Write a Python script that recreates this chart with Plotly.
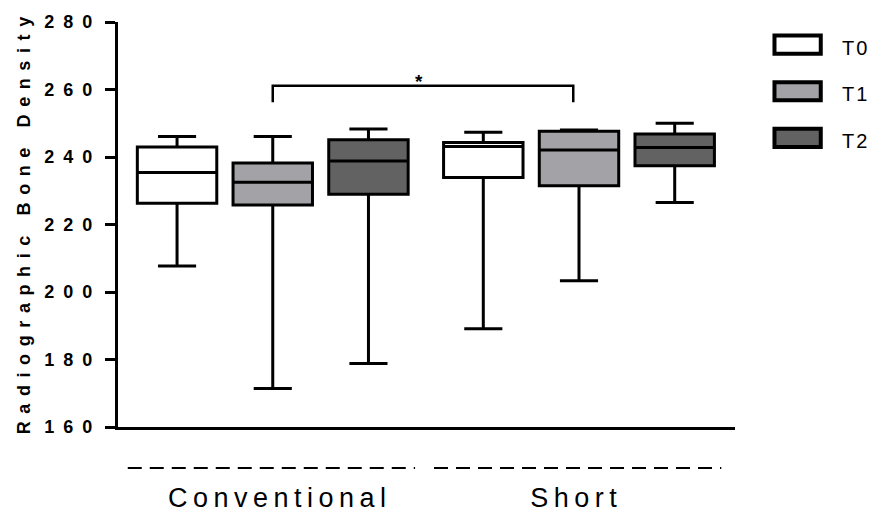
import plotly.graph_objects as go

# ---- data ----
groups = ["Conventional", "Short"]
series = ["T0", "T1", "T2"]
fill_colors = ["#ffffff", "#a3a2a7", "#626262"]

# per series: values for [Conventional, Short]
lower = {"T0": [207.7, 189.1], "T1": [171.4, 203.3], "T2": [178.8, 226.5]}
q1 = {"T0": [226.3, 233.9], "T1": [225.8, 231.5], "T2": [229.0, 237.4]}
median = {"T0": [235.4, 243.1], "T1": [232.5, 242.1], "T2": [238.8, 242.8]}
q3 = {"T0": [243.0, 244.3], "T1": [238.2, 247.6], "T2": [245.1, 246.8]}
upper = {"T0": [246.1, 247.3], "T1": [246.1, 248.0], "T2": [248.3, 250.0]}

y_ticks = [160, 180, 200, 220, 240, 260, 280]
y_title = "Radiographic Bone Density"
sig_label = "*"
sig_pair = ("T1", 0, 1)  # series, group a, group b
sig_bracket = [256.2, 261.1]

# ---- layout helpers ----
group_step = 3.2
def pos(g, s):
    return g * group_step + s

FONT = "Liberation Sans, Arial, sans-serif"
fig = go.Figure()

for si, s in enumerate(series):
    for gi, g in enumerate(groups):
        fig.add_trace(go.Box(
            x=[pos(gi, si)],
            q1=[q1[s][gi]], median=[median[s][gi]], q3=[q3[s][gi]],
            lowerfence=[lower[s][gi]], upperfence=[upper[s][gi]],
            width=0.83, whiskerwidth=0.48,
            fillcolor=fill_colors[si],
            line=dict(color="black", width=3),
            boxpoints=False, name=s, showlegend=False,
        ))

# significance bracket
s_idx = series.index(sig_pair[0])
xa, xb = pos(sig_pair[1], s_idx), pos(sig_pair[2], s_idx) - 0.06
fig.add_shape(type="path",
              path=f"M {xa},{sig_bracket[0]} L {xa},{sig_bracket[1]} L {xb},{sig_bracket[1]} L {xb},{sig_bracket[0]}",
              xref="x", yref="y", line=dict(color="black", width=2.5))
fig.add_annotation(x=(xa + xb) / 2 - 0.04, y=sig_bracket[1], text="<b>" + sig_label + "</b>", showarrow=False,
                   yanchor="bottom", yshift=-8, font=dict(family=FONT, size=19, color="black"))

# group labels with dashed rules
label_shift = [0.076, -0.03]
for gi, g in enumerate(groups):
    c = pos(gi, 1)
    fig.add_shape(type="line", x0=c - 1.515, x1=c + 1.487, y0=-0.101, y1=-0.101,
                  xref="x", yref="paper", line=dict(color="black", width=2, dash="14px,8px"))
    fig.add_annotation(x=c + label_shift[gi], y=-0.176, xref="x", yref="paper", text=g, showarrow=False,
                       yanchor="middle", font=dict(family=FONT, size=27, color="black"))

# manual legend
leg_y = [0.944, 0.829, 0.714]
for si, s in enumerate(series):
    fig.add_shape(type="rect", xref="paper", yref="paper",
                  x0=1.064, x1=1.139, y0=leg_y[si] - 0.0225, y1=leg_y[si] + 0.0225,
                  fillcolor=fill_colors[si], line=dict(color="black", width=4))
    fig.add_annotation(xref="paper", yref="paper", x=1.174, y=leg_y[si] - 0.008, text=s, showarrow=False,
                       xanchor="left", yanchor="middle", font=dict(family=FONT, size=20, color="black"))

# y axis title
fig.add_annotation(xref="paper", yref="paper", x=-0.152, y=0.506, text="<b>" + y_title + "</b>",
                   textangle=-90, showarrow=False, xanchor="center", yanchor="middle",
                   font=dict(family=FONT, size=18, weight=700, color="black"))

fig.update_layout(
    width=879, height=513,
    margin=dict(l=118, r=144, t=22, b=86),
    paper_bgcolor="white", plot_bgcolor="white",
    showlegend=False,
    font=dict(family=FONT, color="black"),
)
fig.update_xaxes(range=[-0.617, 5.83], showline=True, linewidth=3, linecolor="black",
                 showticklabels=False, ticks="", showgrid=False, zeroline=False)
fig.update_yaxes(range=[160, 280], tickvals=y_ticks, ticktext=["<b>%d</b>" % v for v in y_ticks],
                 showline=True, linewidth=3, linecolor="black",
                 ticks="outside", ticklen=10, tickwidth=3, tickcolor="black",
                 showgrid=False, zeroline=False,
                 tickfont=dict(family=FONT, size=18, weight=700, color="black"))

post = """
document.body.style.margin='0';
var gd = document.getElementById('{plot_id}');
gd.querySelectorAll('.ytick text').forEach(function(t){t.style.letterSpacing='9px';});
gd.querySelectorAll('.annotation-text').forEach(function(t){
  var s=t.textContent;
  if(s==='Conventional'||s==='Short'){t.style.letterSpacing='5.5px';}
  else if(s==='Radiographic Bone Density'){t.style.letterSpacing='7.6px';}
  else if(s.length===2){t.style.letterSpacing='2px';}
});
"""
fig.write_html("out.html", post_script=post, config={"displayModeBar": False})
